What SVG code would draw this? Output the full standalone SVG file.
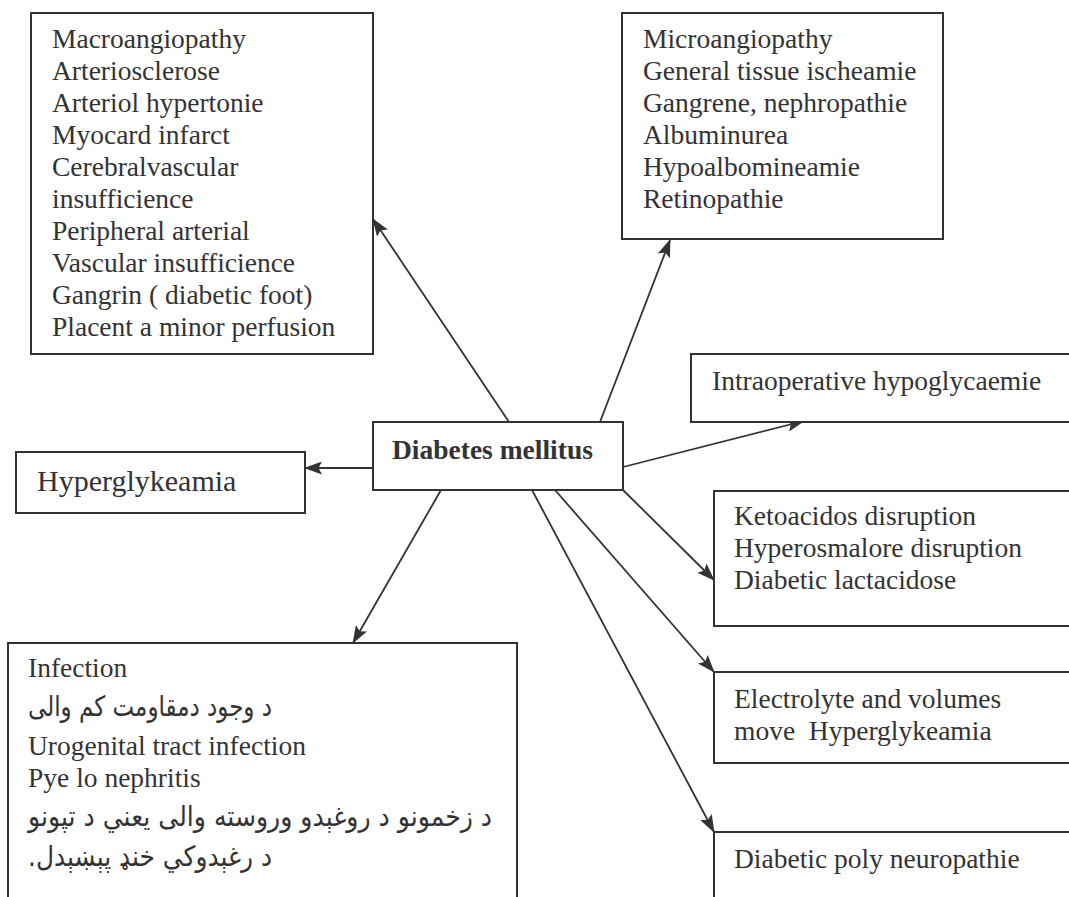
<svg xmlns="http://www.w3.org/2000/svg" width="1069" height="897" viewBox="0 0 1069 897">
<defs>
<style>
.box{fill:#fff;stroke:#333;stroke-width:2}
.t{font-family:"Liberation Serif","Times New Roman",serif;font-size:27.5px;fill:#333}
.b{font-weight:bold}
.ar{font-family:"DejaVu Sans","Noto Sans",sans-serif;font-size:28px;fill:#333}
.c{stroke:#333;stroke-width:1.8;fill:none;marker-end:url(#ah)}
</style>
<marker id="ah" viewBox="0 0 18 13" refX="17" refY="6.5" markerWidth="18" markerHeight="13" markerUnits="userSpaceOnUse" orient="auto">
<path d="M0,0 L18,6.5 L0,13 L3.5,6.5 z" fill="#333"/>
</marker>
</defs>
<rect width="1069" height="897" fill="#fff"/>
<g id="connectors">
<line class="c" x1="509" y1="422" x2="373" y2="219"/>
<line class="c" x1="600" y1="422" x2="670" y2="240"/>
<line class="c" x1="373" y1="468" x2="305" y2="468"/>
<line class="c" x1="623" y1="467" x2="804" y2="421"/>
<line class="c" x1="623" y1="490" x2="714" y2="580"/>
<line class="c" x1="555" y1="490" x2="714" y2="672"/>
<line class="c" x1="532" y1="490" x2="714" y2="832"/>
<line class="c" x1="441" y1="490" x2="353" y2="643"/>
</g>
<g id="macro">
<rect class="box" x="31" y="13" width="342" height="341"/>
<text class="t" x="52" y="48">Macroangiopathy</text>
<text class="t" x="52" y="80">Arteriosclerose</text>
<text class="t" x="52" y="112">Arteriol hypertonie</text>
<text class="t" x="52" y="144">Myocard infarct</text>
<text class="t" x="52" y="176">Cerebralvascular</text>
<text class="t" x="52" y="208">insufficience</text>
<text class="t" x="52" y="240">Peripheral arterial</text>
<text class="t" x="52" y="272">Vascular insufficience</text>
<text class="t" x="52" y="304">Gangrin ( diabetic foot)</text>
<text class="t" x="52" y="336">Placent a minor perfusion</text>
</g>
<g id="micro">
<rect class="box" x="622" y="13" width="321" height="226"/>
<text class="t" x="643" y="48">Microangiopathy</text>
<text class="t" x="643" y="80">General tissue ischeamie</text>
<text class="t" x="643" y="112">Gangrene, nephropathie</text>
<text class="t" x="643" y="144">Albuminurea</text>
<text class="t" x="643" y="176">Hypoalbomineamie</text>
<text class="t" x="643" y="208">Retinopathie</text>
</g>
<g id="center">
<rect class="box" x="373" y="422" width="250" height="68"/>
<text class="t b" x="392" y="459">Diabetes mellitus</text>
</g>
<g id="hyper">
<rect class="box" x="16" y="452" width="289" height="61"/>
<text class="t" x="37" y="491" style="font-size:30px">Hyperglykeamia</text>
</g>
<g id="intraop">
<rect class="box" x="691" y="354" width="390" height="68"/>
<text class="t" x="712" y="390">Intraoperative hypoglycaemie</text>
</g>
<g id="keto">
<rect class="box" x="714" y="491" width="370" height="135"/>
<text class="t" x="734" y="525">Ketoacidos disruption</text>
<text class="t" x="734" y="557">Hyperosmalore disruption</text>
<text class="t" x="734" y="589">Diabetic lactacidose</text>
</g>
<g id="electrolyte">
<rect class="box" x="714" y="672" width="370" height="91"/>
<text class="t" x="734" y="708">Electrolyte and volumes</text>
<text class="t" x="734" y="740" xml:space="preserve">move  Hyperglykeamia</text>
</g>
<g id="neuro">
<rect class="box" x="714" y="832" width="370" height="80"/>
<text class="t" x="734" y="868">Diabetic poly neuropathie</text>
</g>
<g id="infection">
<rect class="box" x="8" y="643" width="509" height="270"/>
<text class="t" x="28" y="677">Infection</text>
<text class="ar" x="272" y="716" direction="rtl" textLength="244" lengthAdjust="spacingAndGlyphs">د وجود دمقاومت کم والی</text>
<text class="t" x="28" y="755">Urogenital tract infection</text>
<text class="t" x="28" y="787">Pye lo nephritis</text>
<text class="ar" x="492" y="826" direction="rtl" textLength="464" lengthAdjust="spacingAndGlyphs">د زخمونو د روغېدو وروسته والی یعني د تپونو</text>
<text class="ar" x="272" y="866" direction="rtl" textLength="244" lengthAdjust="spacingAndGlyphs">د رغېدوکي خنډ پېښېدل.</text>
</g>
</svg>
